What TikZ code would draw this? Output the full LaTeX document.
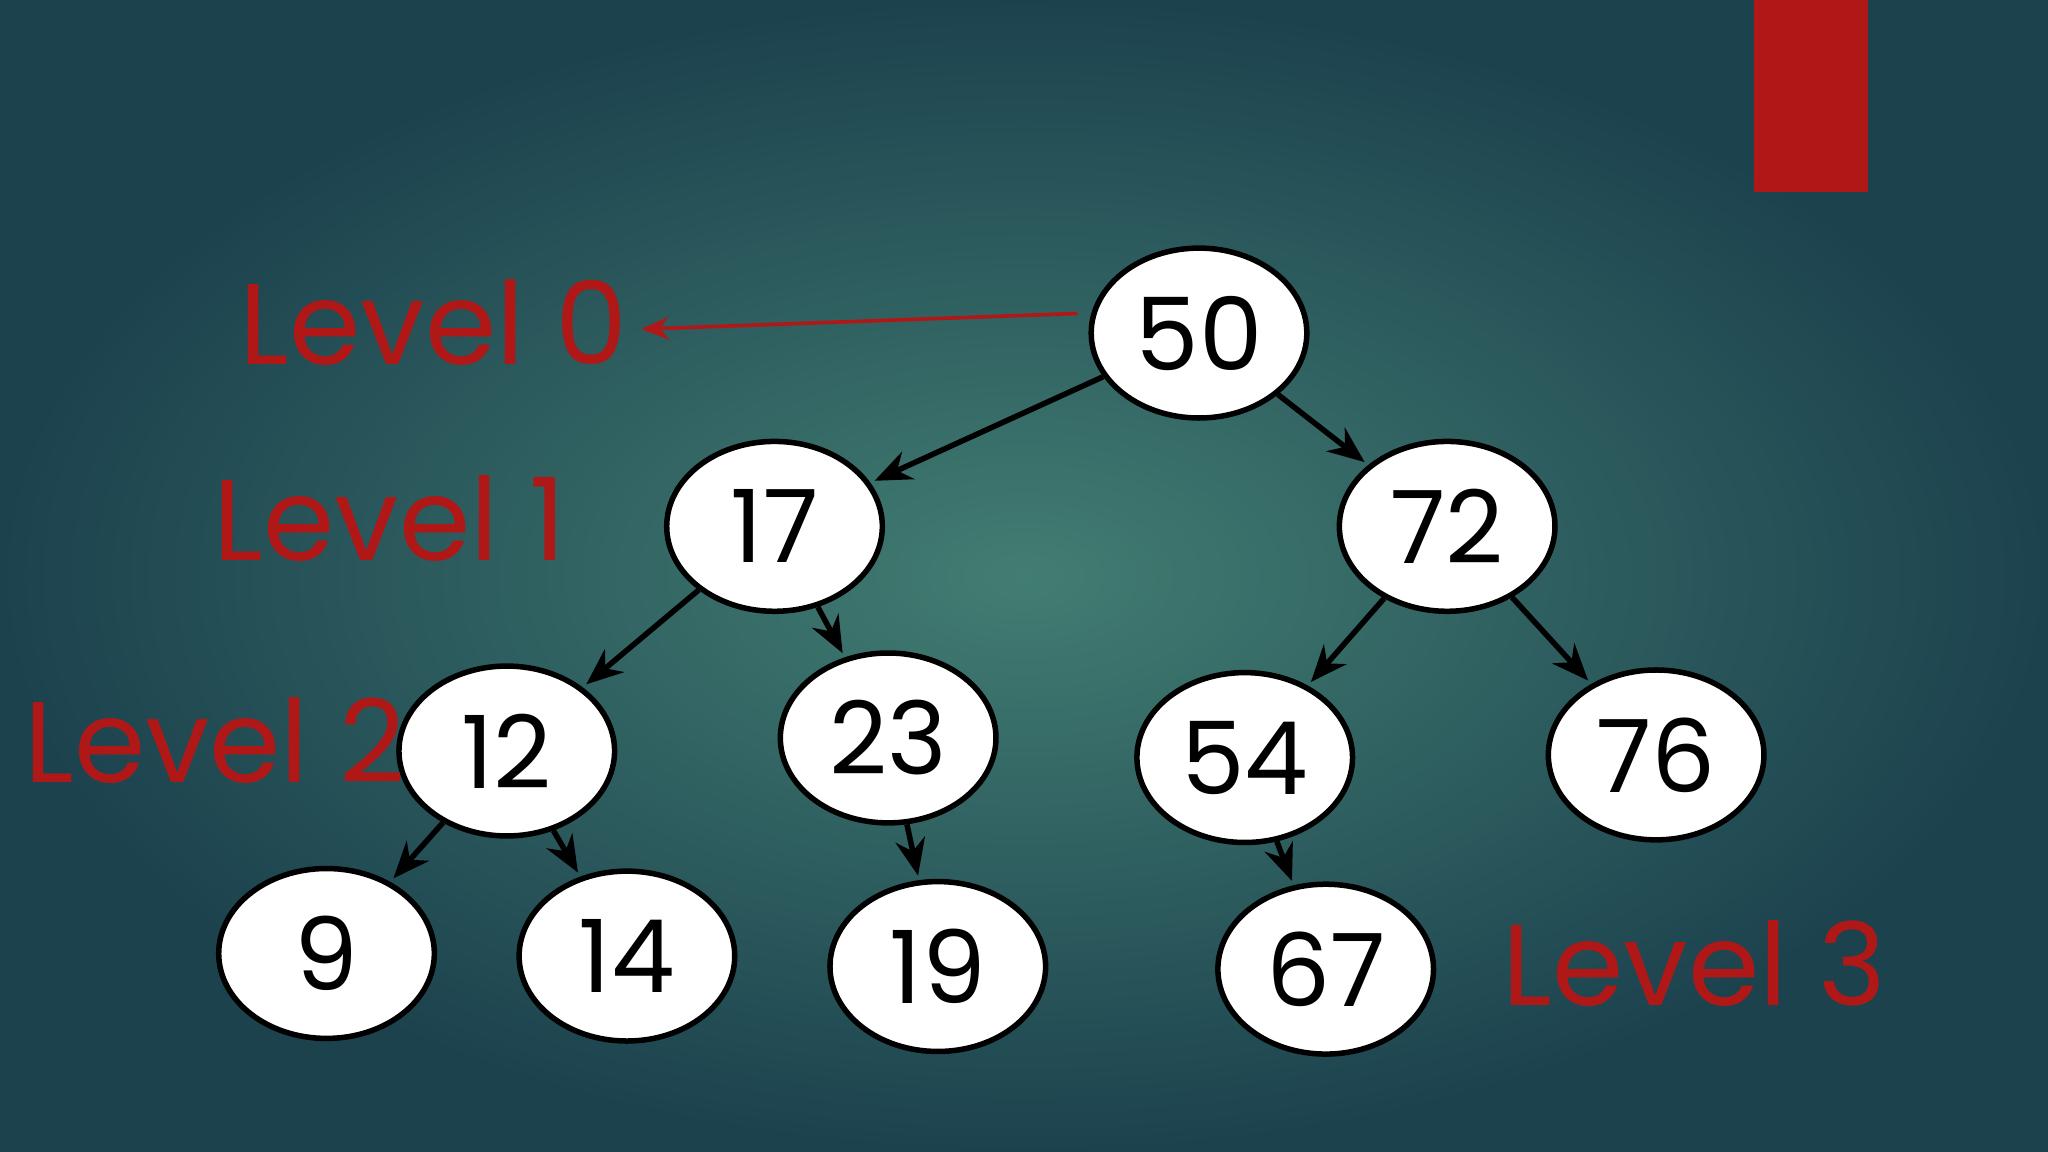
\documentclass[tikz,border=0pt]{standalone}
\usepackage{fontspec}
\setmainfont{Poppins}
\usetikzlibrary{shapes.geometric,arrows.meta}
\definecolor{lvred}{HTML}{B01818}
\definecolor{bgout}{HTML}{1C424E}
\definecolor{bgin}{HTML}{427D72}
\tikzset{
 tn/.style={ellipse,draw=black,line width=1.2pt,fill=white,minimum width=1.65cm,minimum height=1.3cm,inner sep=0pt,font=\fontsize{22}{24}\selectfont},
 ed/.style={-{Stealth[length=8pt,width=6.5pt]},line width=1.2pt,black,shorten >=1pt},
 lv/.style={text=lvred,font=\fontsize{25}{28}\selectfont,inner sep=0pt}
}
\begin{document}
\begin{tikzpicture}[x=0.01cm,y=-0.01cm]
\useasboundingbox (0,0) rectangle (1568,882);
\fill[bgout] (0,0) rectangle (1568,882);
\shade[inner color=bgin,outer color=bgout] (0,0) rectangle (1568,882);
\fill[lvred] (1343,0) rectangle (1430,147);
\node[tn] (n50) at (918,255) {50};
\node[tn] (n17) at (593,403) {17};
\node[tn] (n72) at (1108,403) {72};
\node[tn] (n12) at (388,575) {12};
\node[tn] (n23) at (680,565) {23};
\node[tn] (n54) at (953,580) {54};
\node[tn] (n76) at (1268,578) {76};
\node[tn] (n9) at (250,730) {9};
\node[tn] (n14) at (480,732) {14};
\node[tn] (n19) at (718,740) {19};
\node[tn] (n67) at (1015,742) {67};
\draw[ed] (n50) -- (n17);
\draw[ed] (n50) -- (n72);
\draw[ed] (n17) -- (n12);
\draw[ed] (n17) -- (n23);
\draw[ed] (n72) -- (n54);
\draw[ed] (n72) -- (n76);
\draw[ed] (n12) -- (n9);
\draw[ed] (n12) -- (n14);
\draw[ed] (n23) -- (n19);
\draw[ed] (n54) -- (n67);
\node[lv,anchor=west] (l0) at (183,247) {Level 0};
\node[lv,anchor=west] (l1) at (163,397) {Level 1};
\node[lv,anchor=west] (l2) at (18,567) {Level 2};
\node[lv,anchor=west] (l3) at (1150,738) {Level 3};
\coordinate (a0) at (825,240);
\draw[lvred,line width=0.8pt,-{Stealth[length=6pt,width=5pt]}] (a0) -- ([xshift=0.1cm,yshift=-0.05cm]l0.east);
\end{tikzpicture}
\end{document}
